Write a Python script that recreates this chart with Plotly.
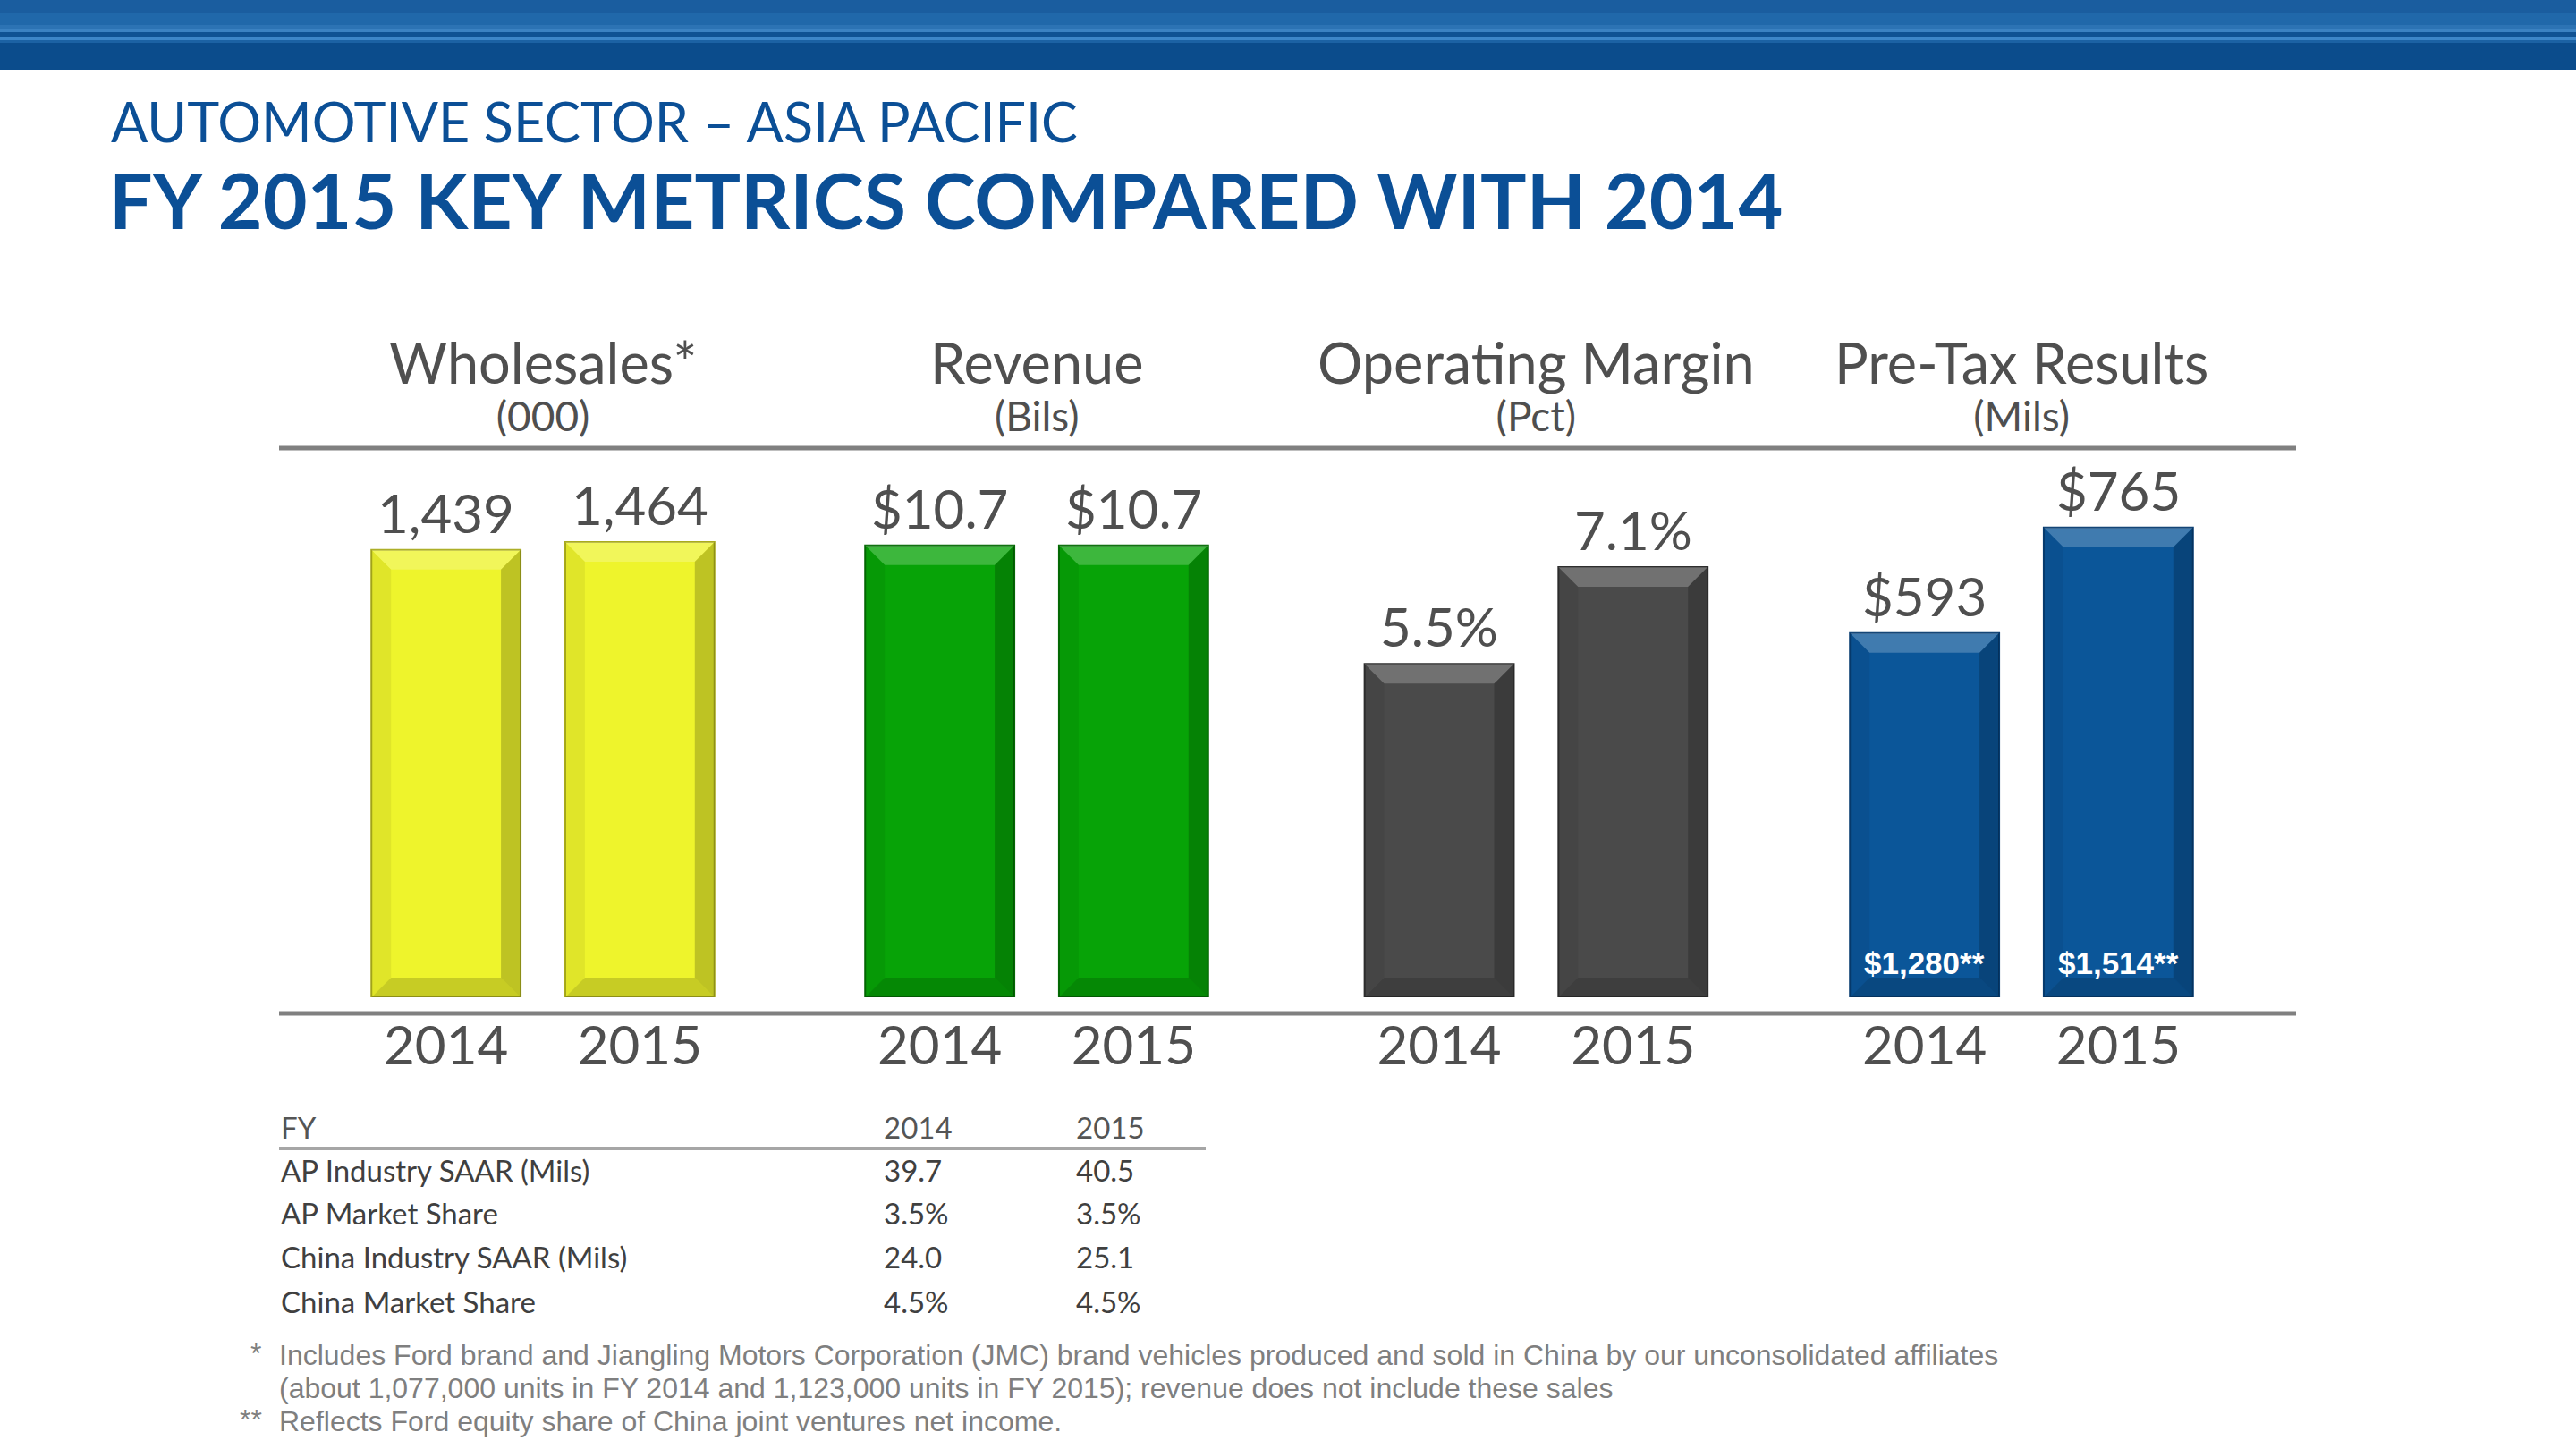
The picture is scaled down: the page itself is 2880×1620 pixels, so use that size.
import plotly.graph_objects as go

W, H = 2880, 1620

# ---------------- data ----------------
years = ["2014", "2015"]
metric_titles = ["Wholesales*", "Revenue", "Operating Margin", "Pre-Tax Results"]
metric_units = ["(000)", "(Bils)", "(Pct)", "(Mils)"]
wholesales = [1439, 1464]
revenue = [10.7, 10.7]
operating_margin = [5.5, 7.1]
pretax = [593, 765]
wholesales_labels = ["1,439", "1,464"]
revenue_labels = ["$10.7", "$10.7"]
margin_labels = ["5.5%", "7.1%"]
pretax_labels = ["$593", "$765"]
china_jv_labels = ["$1,280**", "$1,514**"]

table_header = ["FY", "2014", "2015"]
table_rows = ["AP Industry SAAR (Mils)", "AP Market Share", "China Industry SAAR (Mils)", "China Market Share"]
table_2014 = ["39.7", "3.5%", "24.0", "4.5%"]
table_2015 = ["40.5", "3.5%", "25.1", "4.5%"]

footnote1 = ["Includes Ford brand and Jiangling Motors Corporation (JMC) brand vehicles produced and sold in China by our unconsolidated affiliates",
             "(about 1,077,000 units in FY 2014 and 1,123,000 units in FY 2015); revenue does not include these sales"]
footnote2 = "Reflects Ford equity share of China joint ventures net income."

# ---------------- styling ----------------
FONT = "Lato"
TXT = "#4f4f4f"
BLUE_T = "#0b4f96"
series = [
    (wholesales, wholesales_labels, "#eef42c", "#a9ab1c", 1611),
    (revenue, revenue_labels, "#07a307", "#046a04", 11.86),
    (operating_margin, margin_labels, "#4a4a4a", "#2e2e2e", 8.265),
    (pretax, pretax_labels, "#0b5699", "#073c70", 815.5),
]
centers_px = [607, 1159, 1717.4, 2260]
dom_half = 216.7
ydom = [1 - 1115 / H, 1 - 555 / H]
plot_h_px = 560
BAR_W = 0.77
BEVEL_PX = 22

def px(x):
    return x / W

def py(y):
    return 1 - y / H

def ptext(x, y, text, font, xanchor="center"):
    return dict(x=px(x), y=py(y), xref="paper", yref="paper", text=text, showarrow=False,
                xanchor=xanchor, yanchor="middle", font=font)

def poly(pts):
    return "M " + " L ".join("%.5f,%.5f" % p for p in pts) + " Z"

fig = go.Figure()
annotations = []
shapes = []
layout_axes = {}
for i, (vals, labs, face, edge, ymax) in enumerate(series):
    n = "" if i == 0 else str(i + 1)
    fig.add_trace(go.Bar(
        x=years, y=vals, xaxis="x" + n, yaxis="y" + n,
        marker=dict(color=face, line=dict(color=edge, width=2)),
        width=BAR_W, showlegend=False, hoverinfo="skip",
    ))
    layout_axes["xaxis" + n] = dict(
        domain=[px(centers_px[i] - dom_half), px(centers_px[i] + dom_half)],
        anchor="y" + n, type="category", range=[-0.5, 1.5],
        showgrid=False, zeroline=False, showline=False, ticks="",
        tickfont=dict(family=FONT, size=60, color=TXT),
        ticklabelstandoff=14, fixedrange=True,
    )
    layout_axes["yaxis" + n] = dict(
        domain=ydom, anchor="x" + n, range=[0, ymax], visible=False, fixedrange=True,
    )
    dx = BEVEL_PX / dom_half
    dy = BEVEL_PX * ymax / plot_h_px
    for j, (v, t) in enumerate(zip(vals, labs)):
        l, r = j - BAR_W / 2, j + BAR_W / 2
        bevels = [
            ([(l, v), (r, v), (r - dx, v - dy), (l + dx, v - dy)], "rgba(255,255,255,0.22)"),
            ([(l, 0), (r, 0), (r - dx, dy), (l + dx, dy)], "rgba(0,0,0,0.16)"),
            ([(l, 0), (l, v), (l + dx, v - dy), (l + dx, dy)], "rgba(0,0,0,0.06)"),
            ([(r, 0), (r, v), (r - dx, v - dy), (r - dx, dy)], "rgba(0,0,0,0.20)"),
        ]
        for pts, col in bevels:
            shapes.append(dict(type="path", xref="x" + n, yref="y" + n, path=poly(pts),
                               fillcolor=col, line=dict(width=0), layer="above"))
        annotations.append(dict(
            x=j, y=v, xref="x" + n, yref="y" + n, text=t, showarrow=False,
            xanchor="center", yanchor="bottom", yshift=4,
            font=dict(family=FONT, size=60, color=TXT),
        ))
    annotations.append(dict(
        x=px(centers_px[i]), y=py(494), xref="paper", yref="paper", showarrow=False,
        xanchor="center", yanchor="bottom",
        text="<span style='font-size:63px'>%s</span><br><span style='font-size:46px'>%s</span>"
             % (metric_titles[i], metric_units[i]),
        font=dict(family=FONT, size=41, color=TXT),
    ))

# values inside Pre-Tax bars
for j, t in enumerate(china_jv_labels):
    annotations.append(dict(x=j, y=0, xref="x4", yref="y4", text="<b>%s</b>" % t,
                            showarrow=False, xanchor="center", yanchor="bottom", yshift=17,
                            font=dict(family="Liberation Sans", size=35, color="white")))

# titles
annotations.append(ptext(122, 135, "AUTOMOTIVE SECTOR – ASIA PACIFIC",
                         dict(family=FONT, size=61, color=BLUE_T), "left"))
annotations.append(ptext(120, 223, "<b>FY 2015 KEY METRICS COMPARED WITH 2014</b>",
                         dict(family=FONT, size=86, color=BLUE_T), "left"))

# table
tfont = dict(family=FONT, size=33, color="#404040")
col_x = [312, 986, 1201]
for k, t in enumerate(table_header):
    annotations.append(ptext(col_x[k], 1260, t, dict(family=FONT, size=33, color="#555555"), "left"))
row_y = [1308, 1356, 1405, 1455]
for r in range(len(table_rows)):
    for k, t in enumerate([table_rows[r], table_2014[r], table_2015[r]]):
        annotations.append(ptext(col_x[k], row_y[r], t, tfont, "left"))

# footnotes
ffont = dict(family="Liberation Sans", size=32, color="#7f7f7f")
annotations.append(ptext(278, 1513, "*", ffont, "left"))
annotations.append(ptext(310, 1515, footnote1[0], ffont, "left"))
annotations.append(ptext(310, 1552, footnote1[1], ffont, "left"))
annotations.append(ptext(266, 1587, "**", ffont, "left"))
annotations.append(ptext(310, 1589, footnote2, ffont, "left"))

# header band + rules
band = [(0, 14, "#1a5d9f"), (14, 28, "#2068aa"), (28, 32, "#2c73b4"), (32, 36, "#3b82c2"),
        (36, 41, "#0f5293"), (41, 45, "#3d86c8"), (45, 48, "#1c62a4"), (48, 78, "#0b4c8c")]
for a, b, c in band:
    shapes.append(dict(type="rect", xref="paper", yref="paper", x0=0, x1=1, y0=py(b), y1=py(a),
                       fillcolor=c, line=dict(width=0), layer="below"))
shapes.append(dict(type="line", xref="paper", yref="paper", x0=px(312), x1=px(2567),
                   y0=py(501), y1=py(501), line=dict(color="#808080", width=5)))
shapes.append(dict(type="line", xref="paper", yref="paper", x0=px(312), x1=px(2567),
                   y0=py(1133), y1=py(1133), line=dict(color="#808080", width=5)))
shapes.append(dict(type="line", xref="paper", yref="paper", x0=px(312), x1=px(1348),
                   y0=py(1284), y1=py(1284), line=dict(color="#a6a6a6", width=4)))

fig.update_layout(
    width=W, height=H, autosize=False,
    margin=dict(l=0, r=0, t=0, b=0),
    paper_bgcolor="white", plot_bgcolor="rgba(0,0,0,0)",
    bargap=0.23, annotations=annotations, shapes=shapes,
    **layout_axes,
)
fig.write_html("out.html", config={"displayModeBar": False},
               post_script="document.body.style.margin='0';document.body.style.overflow='hidden';")
